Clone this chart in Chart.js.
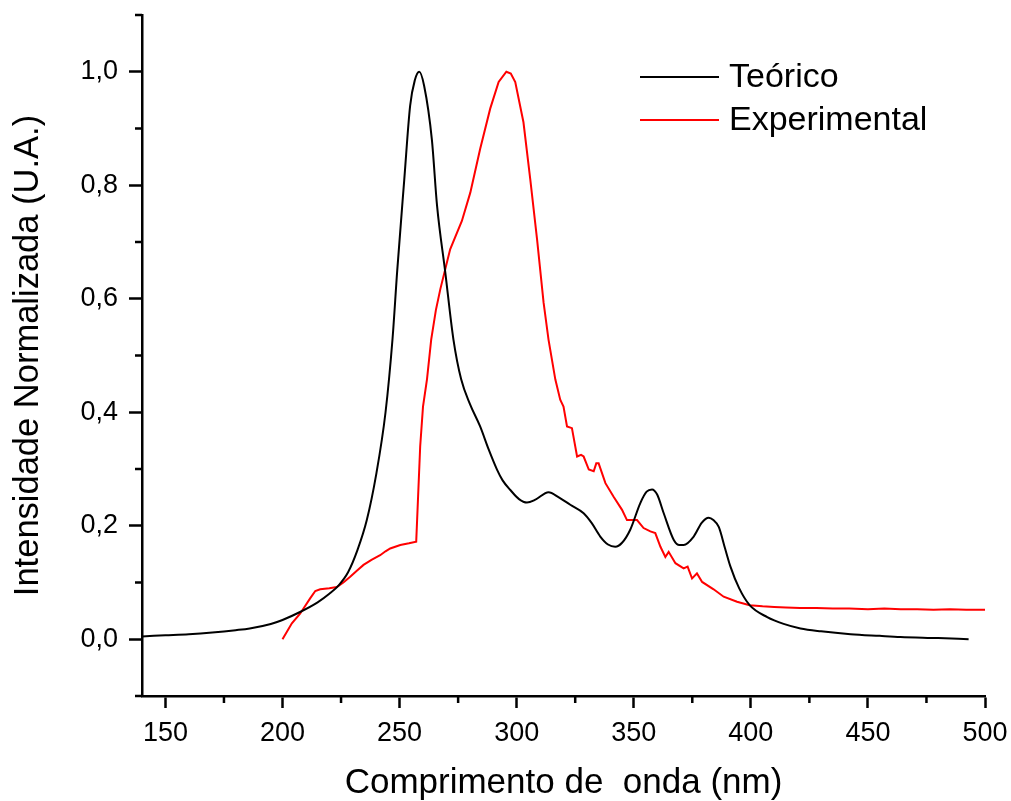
<!DOCTYPE html>
<html>
<head>
<meta charset="utf-8">
<script src="https://cdn.jsdelivr.net/npm/chart.js@4"></script>
<style>
  html, body { margin: 0; padding: 0; background: #fff; }
  #wrap { width: 1011px; height: 801px; }
</style>
</head>
<body>
<div id="wrap"><canvas id="chart" width="1011" height="801"></canvas></div>
<script>
// Teórico (black)
const theoWl = [140, 150, 160, 170, 180, 186, 195, 200, 207.5, 215, 220, 224, 228, 232, 236, 240, 244, 247, 249, 252,
  254.5, 256.5, 258.4, 260.5, 263.8, 266, 269.5, 273, 276.3, 280.2, 284.4, 288, 291.6, 294, 297.3, 301, 304.4, 308,
  313.6, 318, 322.9, 328.6, 332, 335.7, 339, 342.1, 345, 348.5, 352.8, 355.5, 357.8, 360, 362.8, 367.1, 369.5, 371.3,
  375.6, 379, 382, 384, 386.3, 389, 391.3, 395, 399.5, 407, 414, 421.2, 430, 442.6, 455, 463.9, 480, 493];
const theoInt = [0.005, 0.007, 0.009, 0.012, 0.016, 0.019, 0.027, 0.034, 0.048, 0.065, 0.08, 0.095, 0.118, 0.157, 0.21,
  0.29, 0.40, 0.53, 0.65, 0.81, 0.94, 0.985, 1.0, 0.975, 0.88, 0.764, 0.647, 0.528, 0.458, 0.413, 0.375, 0.335, 0.299,
  0.28, 0.263, 0.247, 0.241, 0.246, 0.259, 0.25, 0.237, 0.222, 0.205, 0.181, 0.167, 0.163, 0.17, 0.193, 0.240, 0.26,
  0.264, 0.255, 0.222, 0.175, 0.166, 0.166, 0.181, 0.205, 0.214, 0.21, 0.198, 0.16, 0.128, 0.09, 0.06, 0.039, 0.027,
  0.019, 0.014, 0.009, 0.006, 0.004, 0.002, 0.0];

// Experimental (red)
const expWl = [200, 204, 207.5, 211.8, 214, 216.1, 220, 223.2, 226, 228.9, 231.5, 234.6, 238, 241.7, 244, 246, 250.3,
  254, 257.1, 258.8, 260, 261.7, 263.5, 265.5, 267.4, 271.6, 276.6, 280.2, 284.4, 288.7, 292.3, 295.6, 297.5, 299.4,
  302.9, 305.8, 308.7, 311.5, 313.6, 316.5, 318.6, 320, 321.5, 323.6, 325.8, 327.5, 328.6, 330.8, 332.9, 334, 335,
  337.9, 341.4, 345, 347.1, 351.4, 354.2, 357.1, 359.2, 361.4, 363.5, 364.9, 367.8, 371.3, 373, 374.9, 377, 379.2,
  384.1, 388.4, 394.1, 399.5, 405, 410, 415, 421, 428, 435, 442, 450, 457, 464, 471, 478, 485, 492, 500];
const expInt = [0.0, 0.028, 0.045, 0.072, 0.085, 0.088, 0.09, 0.092, 0.1, 0.110, 0.12, 0.131, 0.14, 0.148, 0.155, 0.160,
  0.166, 0.169, 0.172, 0.34, 0.41, 0.458, 0.528, 0.58, 0.617, 0.687, 0.737, 0.787, 0.864, 0.935, 0.982, 1.0, 0.997,
  0.982, 0.911, 0.811, 0.705, 0.593, 0.528, 0.458, 0.422, 0.41, 0.375, 0.372, 0.322, 0.325, 0.322, 0.299, 0.296, 0.31,
  0.31, 0.275, 0.251, 0.228, 0.21, 0.21, 0.196, 0.19, 0.187, 0.163, 0.145, 0.154, 0.134, 0.125, 0.128, 0.107, 0.116,
  0.101, 0.088, 0.075, 0.066, 0.06, 0.058, 0.057, 0.056, 0.055, 0.055, 0.054, 0.054, 0.053, 0.054, 0.053, 0.053,
  0.052, 0.053, 0.052, 0.052];

const seriesNames = ['Teórico', 'Experimental'];
const seriesColors = ['#000000', '#ff0000'];

const xTicks = [150, 175, 200, 225, 250, 275, 300, 325, 350, 375, 400, 425, 450, 475, 500];
const xLabeled = [150, 200, 250, 300, 350, 400, 450, 500];
const yTicks = [-0.1, 0, 0.1, 0.2, 0.3, 0.4, 0.5, 0.6, 0.7, 0.8, 0.9, 1.0, 1.1];
const yLabeled = [0, 0.2, 0.4, 0.6, 0.8, 1.0];

const FONT = "'Liberation Sans', Arial, sans-serif";

function toPoints(xs, ys) {
  return xs.map((x, i) => ({ x: x, y: ys[i] }));
}

// minor ticks (shorter) + legend drawn on the canvas
const extras = {
  id: 'extras',
  afterDraw(chart) {
    const ctx = chart.ctx;
    const xs = chart.scales.x;
    const ys = chart.scales.y;
    ctx.save();
    ctx.strokeStyle = '#000';
    ctx.lineWidth = 2.5;
    ctx.beginPath();
    xTicks.filter(v => !xLabeled.includes(v)).forEach(v => {
      const px = xs.getPixelForValue(v);
      ctx.moveTo(px, xs.top);
      ctx.lineTo(px, xs.top + 7);
    });
    yTicks.filter(v => !yLabeled.includes(v)).forEach(v => {
      const py = ys.getPixelForValue(v);
      ctx.moveTo(ys.right, py);
      ctx.lineTo(ys.right - 7, py);
    });
    ctx.stroke();

    // legend
    ctx.font = '34px ' + FONT;
    ctx.textBaseline = 'middle';
    ctx.fillStyle = '#000';
    seriesNames.forEach((name, i) => {
      const y = 77 + i * 43;
      ctx.strokeStyle = seriesColors[i];
      ctx.lineWidth = 2;
      ctx.beginPath();
      ctx.moveTo(640, y);
      ctx.lineTo(719, y);
      ctx.stroke();
      ctx.fillText(name, 729, y + 1);
    });
    ctx.restore();
  }
};

new Chart(document.getElementById('chart'), {
  type: 'line',
  data: {
    datasets: [{
      label: seriesNames[0],
      data: toPoints(theoWl, theoInt),
      borderColor: seriesColors[0],
      borderWidth: 2,
      pointRadius: 0,
      cubicInterpolationMode: 'monotone',
      fill: false
    }, {
      label: seriesNames[1],
      data: toPoints(expWl, expInt),
      borderColor: seriesColors[1],
      borderWidth: 2,
      pointRadius: 0,
      tension: 0,
      fill: false
    }]
  },
  plugins: [extras],
  options: {
    responsive: false,
    animation: false,
    layout: { padding: { top: 15, right: 26, left: 0, bottom: 0 } },
    plugins: {
      legend: { display: false },
      tooltip: { enabled: false }
    },
    scales: {
      x: {
        type: 'linear',
        min: 140,
        max: 500,
        afterBuildTicks: s => { s.ticks = xTicks.map(v => ({ value: v })); },
        afterFit: s => { s.height = 105; s.paddingLeft = 0; s.paddingRight = 0; },
        ticks: {
          autoSkip: false,
          maxRotation: 0,
          padding: 9,
          color: '#000',
          font: { family: FONT, size: 27 },
          callback: v => xLabeled.includes(v) ? String(v) : ''
        },
        grid: {
          drawOnChartArea: false,
          tickLength: 12,
          tickWidth: 2.5,
          tickColor: c => (c.tick && xLabeled.includes(c.tick.value)) ? '#000' : 'rgba(0,0,0,0)'
        },
        border: { display: true, color: '#000', width: 2.5 },
        title: {
          display: true,
          text: 'Comprimento de  onda (nm)',
          color: '#000',
          font: { family: FONT, size: 35, lineHeight: 1 },
          padding: { top: 2, bottom: 0 }
        }
      },
      y: {
        type: 'linear',
        min: -0.1,
        max: 1.1,
        afterBuildTicks: s => { s.ticks = yTicks.map(v => ({ value: v })); },
        afterFit: s => { s.width = 142; s.paddingTop = 0; s.paddingBottom = 0; },
        ticks: {
          autoSkip: false,
          padding: 11,
          color: '#000',
          font: { family: FONT, size: 27 },
          callback: v => yLabeled.includes(v) ? v.toFixed(1).replace('.', ',') : ''
        },
        grid: {
          drawOnChartArea: false,
          tickLength: 13,
          tickWidth: 2.5,
          tickColor: c => (c.tick && yLabeled.includes(c.tick.value)) ? '#000' : 'rgba(0,0,0,0)'
        },
        border: { display: true, color: '#000', width: 2.5 },
        title: {
          display: true,
          text: 'Intensidade Normalizada (U.A.)',
          color: '#000',
          font: { family: FONT, size: 34.5, lineHeight: 1 },
          padding: { top: 11, bottom: 0 }
        }
      }
    }
  }
});
</script>
</body>
</html>
